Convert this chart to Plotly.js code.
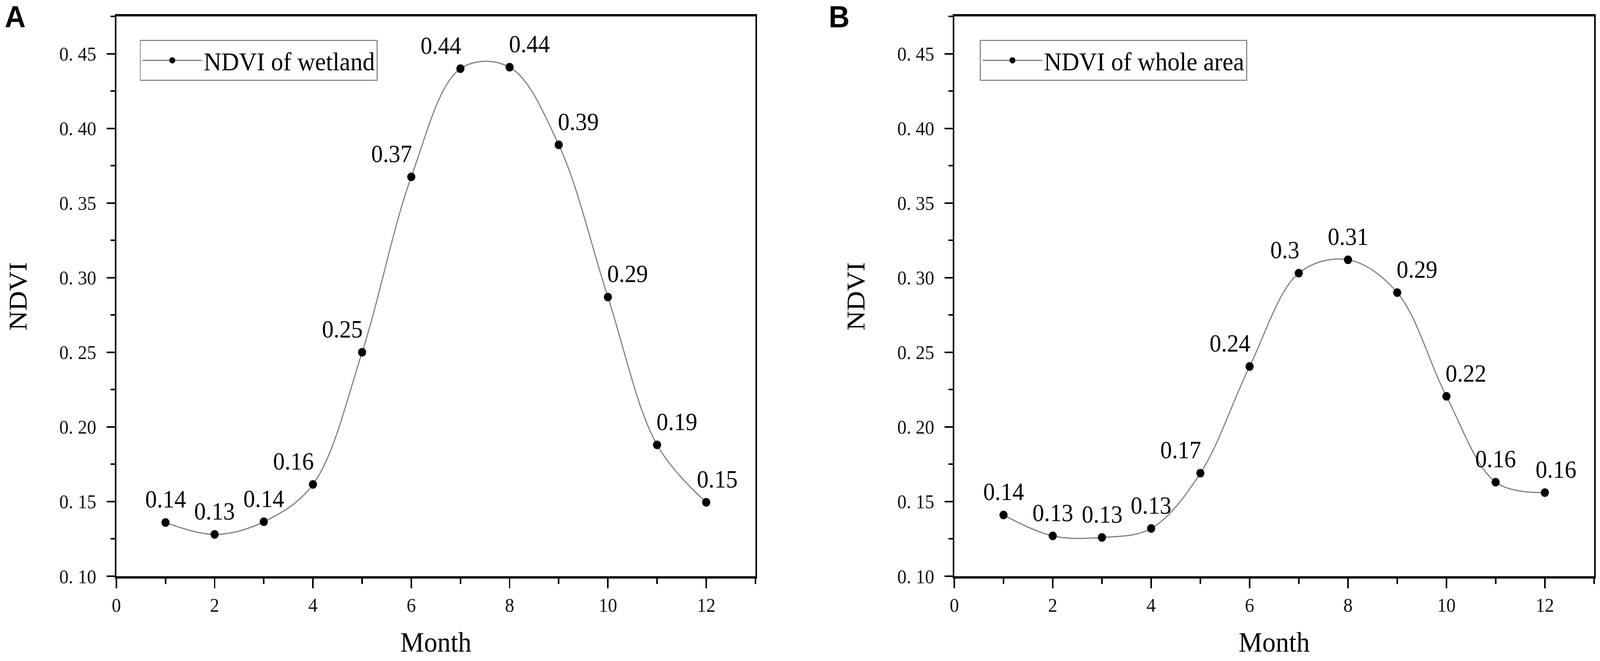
<!DOCTYPE html>
<html>
<head>
<meta charset="utf-8">
<script src="https://cdn.plot.ly/plotly-3.0.1.min.js"></script>
<style>
  html, body { margin: 0; padding: 0; background: #fff; overflow: hidden; }
  #chart { width: 4319px; height: 1692px; transform-origin: 0 0; }
</style>
</head>
<body>
<div id="chart"></div>
<script>
// values
const months = [1, 2, 3, 4, 5, 6, 7, 8, 9, 10, 11, 12];
const wetlandNdvi = [0.136, 0.128, 0.1365, 0.1615, 0.250, 0.3675, 0.440, 0.441, 0.389, 0.287, 0.188, 0.1495];
const wholeNdvi = [0.141, 0.127, 0.126, 0.132, 0.169, 0.2405, 0.303, 0.312, 0.290, 0.2205, 0.163, 0.156];
const seriesNames = ['NDVI of wetland', 'NDVI of whole area'];
const panelLetters = ['A', 'B'];

const yTickVals = [0.10, 0.15, 0.20, 0.25, 0.30, 0.35, 0.40, 0.45];
const yTickText = ['0. 10', '0. 15', '0. 20', '0. 25', '0. 30', '0. 35', '0. 40', '0. 45'];
const xTickVals = [0, 2, 4, 6, 8, 10, 12];

(function () {
  const W = 4319;
  const H = 1692;
  const serif = 'Liberation Serif, Times New Roman, serif';
  const chartDiv = document.getElementById('chart');

  // fit the fixed size figure into whatever viewport we get
  const vw = document.documentElement.clientWidth || window.innerWidth;
  const vh = document.documentElement.clientHeight || window.innerHeight;
  if (vw && vh && (Math.abs(vw - W) > 1 || Math.abs(vh - H) > 1)) {
    chartDiv.style.transform = 'scale(' + (vw / W) + ',' + (vh / H) + ')';
  }

  // plot boxes in pixels of the figure
  const yDomain = [1 - 1475 / H, 1 - 42 / H];
  const xDomains = [[314 / W, 2039 / W], [2576 / W, 4303 / W]];

  // Origin style label: above the point, pushed aside where the curve is steep
  const labelAnnotations = function (values, axisSuffix) {
    const last = values.length - 1;
    return values.map(function (v, i) {
      const prev = i > 0 ? values[i - 1] : v;
      const next = i < last ? values[i + 1] : v;
      const d = next - prev;
      let anchor = 'center';
      let shift = 0;
      if (i > 0 && i < last && d > 0.045 && v - prev > 0.02) {
        anchor = 'right';
        shift = 4;
      } else if (i > 0 && i < last && d < -0.045 && next - v < -0.02) {
        anchor = 'left';
        shift = -4;
      } else if (i === last) {
        shift = 30;
      }
      return {
        xref: 'x' + axisSuffix,
        yref: 'y' + axisSuffix,
        x: months[i],
        y: v,
        text: String(parseFloat(v.toFixed(2))),
        showarrow: false,
        xanchor: anchor,
        yanchor: 'bottom',
        xshift: shift,
        yshift: 22,
        font: { family: serif, size: 63, color: '#000' }
      };
    });
  };

  const makeTrace = function (values, name, axisSuffix, legendId) {
    return {
      x: months,
      y: values,
      name: name,
      type: 'scatter',
      mode: 'lines+markers',
      xaxis: 'x' + axisSuffix,
      yaxis: 'y' + axisSuffix,
      legend: legendId,
      line: { color: '#7f7f7f', width: 3, shape: 'spline', smoothing: 1 },
      marker: { color: '#000', size: 22 },
      cliponaxis: false,
      showlegend: true
    };
  };

  const xAxis = function (domain, anchor) {
    return {
      domain: domain,
      anchor: anchor,
      range: [0, 13],
      tickvals: xTickVals,
      ticks: 'outside',
      ticklen: 25,
      tickwidth: 4,
      tickcolor: '#000',
      ticklabelstandoff: 0,
      minor: { dtick: 1, ticks: 'outside', ticklen: 14, tickwidth: 4, tickcolor: '#000' },
      showline: true,
      linewidth: 6,
      linecolor: '#000',
      mirror: true,
      showgrid: false,
      zeroline: false,
      tickfont: { family: serif, size: 50, color: '#111' },
      title: { text: 'Month', standoff: 44, font: { family: serif, size: 72, color: '#000' } }
    };
  };

  const yAxis = function (anchor) {
    return {
      domain: yDomain,
      anchor: anchor,
      range: [0.10, 0.475],
      tickvals: yTickVals,
      ticktext: yTickText,
      ticks: 'outside',
      ticklen: 22,
      tickwidth: 4,
      tickcolor: '#000',
      ticklabelstandoff: 18,
      minor: { dtick: 0.025, tick0: 0.10, ticks: 'outside', ticklen: 12, tickwidth: 4, tickcolor: '#000' },
      showline: true,
      linewidth: 4,
      linecolor: '#000',
      mirror: true,
      showgrid: false,
      zeroline: false,
      tickfont: { family: serif, size: 50, color: '#111' },
      title: { text: 'NDVI', standoff: 66, font: { family: serif, size: 70, color: '#000' } }
    };
  };

  const legendBox = function (x) {
    return {
      x: x,
      y: 1 - 102 / H,
      xanchor: 'left',
      yanchor: 'top',
      bgcolor: '#fff',
      bordercolor: '#8c8c8c',
      borderwidth: 3,
      itemwidth: 160,
      font: { family: serif, size: 66, color: '#000' }
    };
  };

  const letters = panelLetters.map(function (letter, i) {
    return {
      xref: 'paper',
      yref: 'paper',
      x: [41 / W, 2265 / W][i],
      y: 1 - 43 / H,
      text: '<b>' + letter + '</b>',
      showarrow: false,
      xanchor: 'center',
      yanchor: 'middle',
      font: { family: 'Liberation Sans, Arial, sans-serif', size: 78, color: '#000' }
    };
  });

  const data = [
    makeTrace(wetlandNdvi, seriesNames[0], '', 'legend'),
    makeTrace(wholeNdvi, seriesNames[1], '2', 'legend2')
  ];

  const layout = {
    width: W,
    height: H,
    paper_bgcolor: '#fff',
    plot_bgcolor: '#fff',
    margin: { l: 0, r: 0, t: 0, b: 0 },
    xaxis: xAxis(xDomains[0], 'y'),
    yaxis: yAxis('x'),
    xaxis2: xAxis(xDomains[1], 'y2'),
    yaxis2: yAxis('x2'),
    legend: legendBox(377 / W),
    legend2: legendBox(2645 / W),
    annotations: letters
      .concat(labelAnnotations(wetlandNdvi, ''))
      .concat(labelAnnotations(wholeNdvi, '2')),
    showlegend: true
  };

  Plotly.newPlot(chartDiv, data, layout, { staticPlot: true, displayModeBar: false });
})();
</script>
</body>
</html>
